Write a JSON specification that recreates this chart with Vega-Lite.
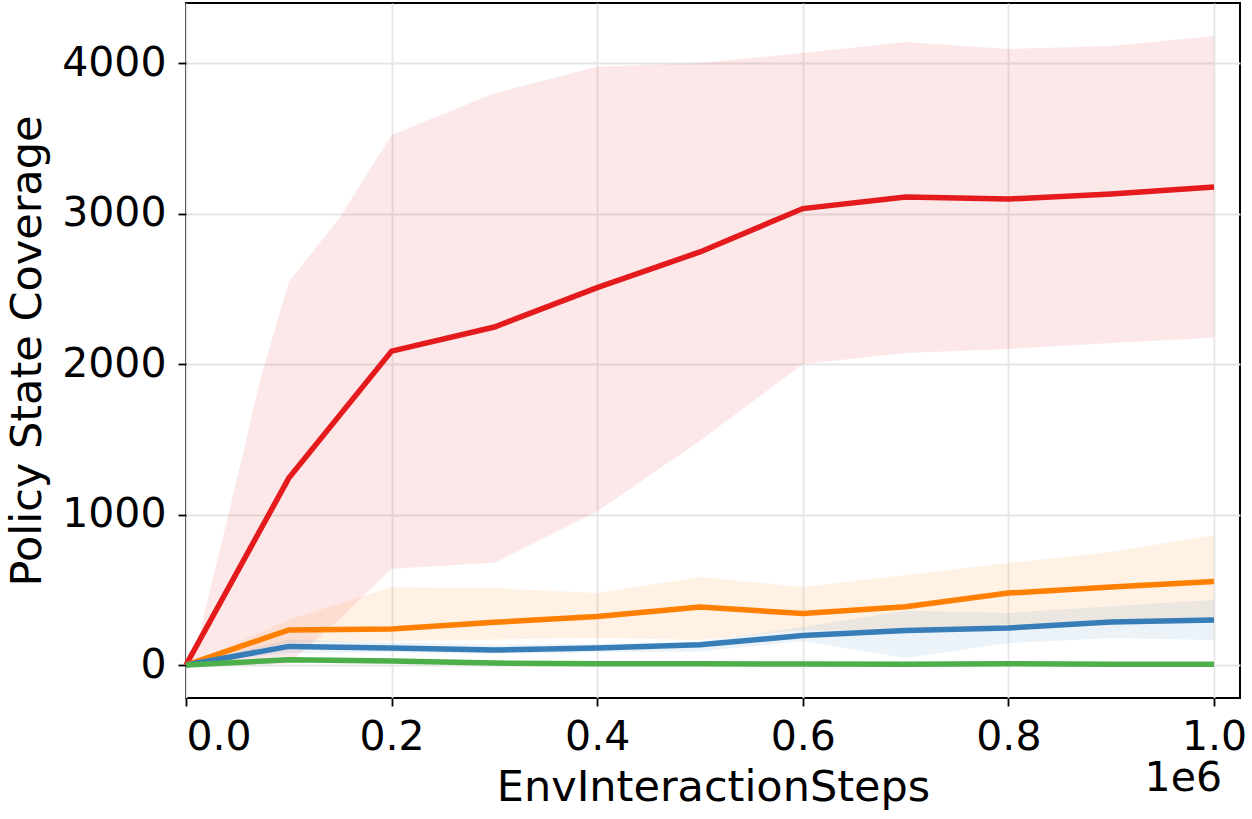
{
  "$schema": "https://vega.github.io/schema/vega-lite/v6.json",
  "autosize": "none",
  "width": 1054,
  "height": 695,
  "padding": {"left": 186, "top": 3, "right": 12, "bottom": 121},
  "background": "white",
  "config": {
    "font": "DejaVu Sans",
    "view": {"stroke": "black", "strokeWidth": 2},
    "axis": {
      "domain": false,
      "grid": true,
      "gridColor": "#e6e6e6",
      "gridWidth": 1.8,
      "tickColor": "black",
      "tickWidth": 1.8,
      "tickSize": 8,
      "labelFont": "DejaVu Sans",
      "labelFontSize": 41,
      "labelColor": "black",
      "titleFont": "DejaVu Sans",
      "titleFontSize": 43,
      "titleFontWeight": "normal",
      "titleColor": "black"
    }
  },
  "title": {
    "text": "1e6",
    "orient": "bottom",
    "anchor": "end",
    "frame": "group",
    "font": "DejaVu Sans",
    "fontSize": 41,
    "fontWeight": "normal",
    "color": "black",
    "offset": -50,
    "dx": -18
  },
  "datasets": {
    "bands": [
      {"series": "s1", "x": 0, "lo": 0, "hi": 0},
      {"series": "s1", "x": 0.011, "lo": 0, "hi": 146},
      {"series": "s1", "x": 0.04, "lo": 0, "hi": 963},
      {"series": "s1", "x": 0.073, "lo": 3, "hi": 1914},
      {"series": "s1", "x": 0.1, "lo": 10, "hi": 2545},
      {"series": "s1", "x": 0.15, "lo": 310, "hi": 2977},
      {"series": "s1", "x": 0.2, "lo": 640, "hi": 3522},
      {"series": "s1", "x": 0.3, "lo": 680, "hi": 3800},
      {"series": "s1", "x": 0.4, "lo": 1020, "hi": 3975},
      {"series": "s1", "x": 0.5, "lo": 1490, "hi": 4000},
      {"series": "s1", "x": 0.6, "lo": 2000, "hi": 4066},
      {"series": "s1", "x": 0.7, "lo": 2073, "hi": 4140},
      {"series": "s1", "x": 0.8, "lo": 2100, "hi": 4093},
      {"series": "s1", "x": 0.9, "lo": 2140, "hi": 4113},
      {"series": "s1", "x": 1.0, "lo": 2175, "hi": 4180},
      {"series": "s2", "x": 0, "lo": 0, "hi": 0},
      {"series": "s2", "x": 0.1, "lo": 150, "hi": 300},
      {"series": "s2", "x": 0.2, "lo": 160, "hi": 518},
      {"series": "s2", "x": 0.3, "lo": 170, "hi": 512},
      {"series": "s2", "x": 0.4, "lo": 180, "hi": 478},
      {"series": "s2", "x": 0.5, "lo": 166, "hi": 585},
      {"series": "s2", "x": 0.6, "lo": 233, "hi": 518},
      {"series": "s2", "x": 0.7, "lo": 230, "hi": 598},
      {"series": "s2", "x": 0.8, "lo": 240, "hi": 678},
      {"series": "s2", "x": 0.9, "lo": 270, "hi": 751},
      {"series": "s2", "x": 1.0, "lo": 290, "hi": 864},
      {"series": "s3", "x": 0, "lo": 0, "hi": 0},
      {"series": "s3", "x": 0.1, "lo": 80, "hi": 170},
      {"series": "s3", "x": 0.2, "lo": 85, "hi": 150},
      {"series": "s3", "x": 0.3, "lo": 75, "hi": 135},
      {"series": "s3", "x": 0.4, "lo": 85, "hi": 140},
      {"series": "s3", "x": 0.5, "lo": 90, "hi": 155},
      {"series": "s3", "x": 0.6, "lo": 160, "hi": 252},
      {"series": "s3", "x": 0.7, "lo": 46, "hi": 360},
      {"series": "s3", "x": 0.8, "lo": 146, "hi": 345},
      {"series": "s3", "x": 0.9, "lo": 179, "hi": 390},
      {"series": "s3", "x": 1.0, "lo": 166, "hi": 432},
      {"series": "s4", "x": 0, "lo": 0, "hi": 0},
      {"series": "s4", "x": 0.1, "lo": 15, "hi": 55},
      {"series": "s4", "x": 0.2, "lo": 10, "hi": 45},
      {"series": "s4", "x": 0.3, "lo": 0, "hi": 28},
      {"series": "s4", "x": 0.4, "lo": -5, "hi": 20},
      {"series": "s4", "x": 0.5, "lo": -5, "hi": 20},
      {"series": "s4", "x": 0.6, "lo": -5, "hi": 18},
      {"series": "s4", "x": 0.7, "lo": -5, "hi": 17},
      {"series": "s4", "x": 0.8, "lo": -5, "hi": 20},
      {"series": "s4", "x": 0.9, "lo": -5, "hi": 17},
      {"series": "s4", "x": 1.0, "lo": -5, "hi": 15}
    ],
    "means": [
      {"series": "s1", "x": 0, "mean": 0},
      {"series": "s1", "x": 0.1, "mean": 1242},
      {"series": "s1", "x": 0.2, "mean": 2086},
      {"series": "s1", "x": 0.3, "mean": 2246},
      {"series": "s1", "x": 0.4, "mean": 2508},
      {"series": "s1", "x": 0.5, "mean": 2745},
      {"series": "s1", "x": 0.6, "mean": 3033},
      {"series": "s1", "x": 0.7, "mean": 3110},
      {"series": "s1", "x": 0.8, "mean": 3096},
      {"series": "s1", "x": 0.9, "mean": 3130},
      {"series": "s1", "x": 1.0, "mean": 3176},
      {"series": "s2", "x": 0, "mean": 0},
      {"series": "s2", "x": 0.1, "mean": 233},
      {"series": "s2", "x": 0.2, "mean": 239},
      {"series": "s2", "x": 0.3, "mean": 284},
      {"series": "s2", "x": 0.4, "mean": 322},
      {"series": "s2", "x": 0.5, "mean": 385},
      {"series": "s2", "x": 0.6, "mean": 343},
      {"series": "s2", "x": 0.7, "mean": 387},
      {"series": "s2", "x": 0.8, "mean": 478},
      {"series": "s2", "x": 0.9, "mean": 518},
      {"series": "s2", "x": 1.0, "mean": 555},
      {"series": "s3", "x": 0, "mean": 0},
      {"series": "s3", "x": 0.1, "mean": 124},
      {"series": "s3", "x": 0.2, "mean": 113},
      {"series": "s3", "x": 0.3, "mean": 100},
      {"series": "s3", "x": 0.4, "mean": 113},
      {"series": "s3", "x": 0.5, "mean": 135},
      {"series": "s3", "x": 0.6, "mean": 196},
      {"series": "s3", "x": 0.7, "mean": 230},
      {"series": "s3", "x": 0.8, "mean": 246},
      {"series": "s3", "x": 0.9, "mean": 286},
      {"series": "s3", "x": 1.0, "mean": 299},
      {"series": "s4", "x": 0, "mean": 0},
      {"series": "s4", "x": 0.1, "mean": 35},
      {"series": "s4", "x": 0.2, "mean": 27},
      {"series": "s4", "x": 0.3, "mean": 13},
      {"series": "s4", "x": 0.4, "mean": 8},
      {"series": "s4", "x": 0.5, "mean": 8},
      {"series": "s4", "x": 0.6, "mean": 7},
      {"series": "s4", "x": 0.7, "mean": 6},
      {"series": "s4", "x": 0.8, "mean": 8},
      {"series": "s4", "x": 0.9, "mean": 6},
      {"series": "s4", "x": 1.0, "mean": 5}
    ]
  },
  "encoding": {
    "x": {
      "field": "x",
      "type": "quantitative",
      "scale": {"domain": [0, 1.0253], "nice": false, "zero": false},
      "axis": {
        "title": "EnvInteractionSteps",
        "values": [0, 0.2, 0.4, 0.6, 0.8, 1.0],
        "format": ".1f",
        "labelPadding": 11,
        "titlePadding": 9
      }
    },
    "color": {
      "field": "series",
      "type": "nominal",
      "scale": {"domain": ["s1", "s2", "s3", "s4"], "range": ["#e41a1c", "#ff7f00", "#377eb8", "#4daf4a"]},
      "legend": null
    }
  },
  "layer": [
    {
      "data": {"name": "bands"},
      "mark": {"type": "area", "opacity": 0.1},
      "encoding": {
        "y": {
          "field": "lo",
          "type": "quantitative",
          "scale": {"domain": [-219, 4399], "nice": false, "zero": false},
          "axis": {
            "title": "Policy State Coverage",
            "values": [0, 1000, 2000, 3000, 4000],
            "format": "d",
            "labelPadding": 12,
            "titlePadding": 12
          }
        },
        "y2": {"field": "hi"}
      }
    },
    {
      "data": {"name": "means"},
      "mark": {"type": "line", "strokeWidth": 5.5},
      "encoding": {
        "y": {"field": "mean", "type": "quantitative"}
      }
    }
  ]
}
